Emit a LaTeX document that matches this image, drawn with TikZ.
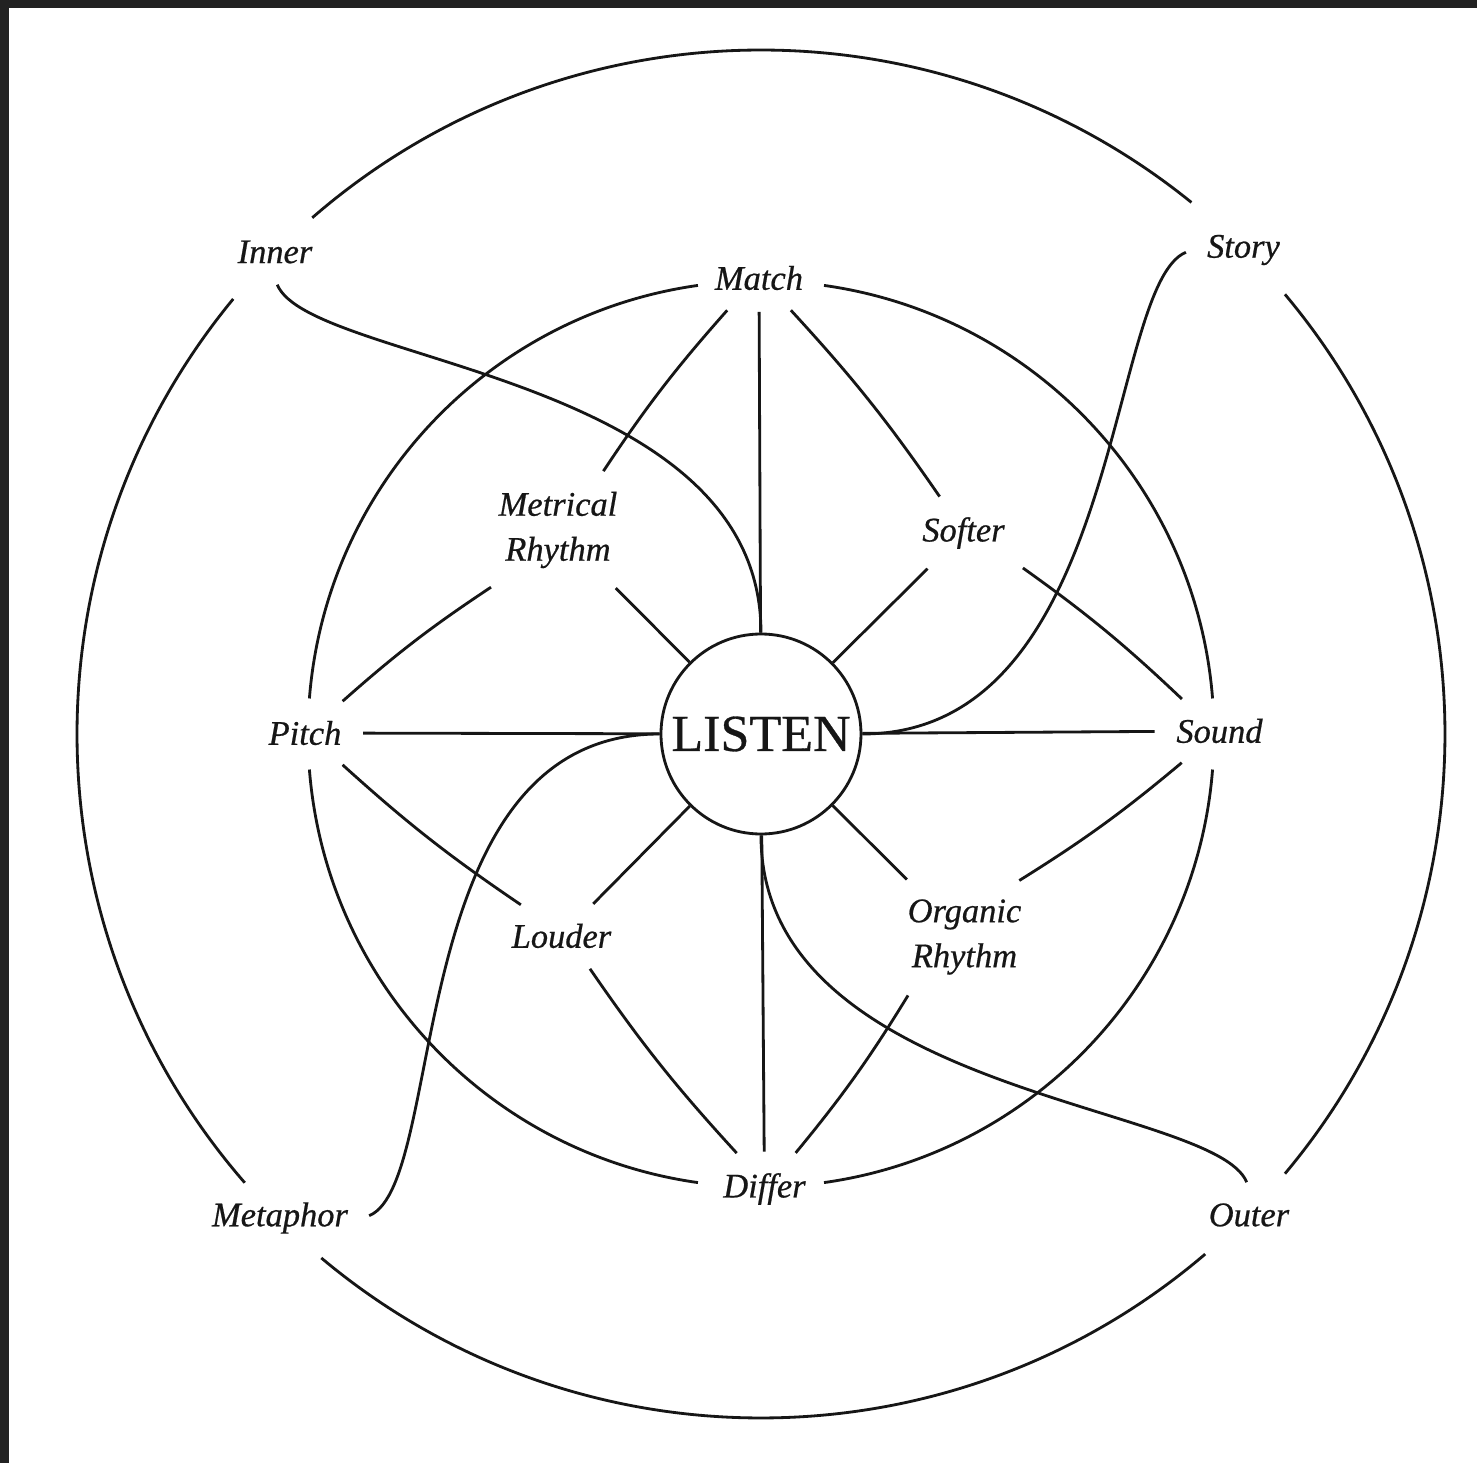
\documentclass[tikz,border=0pt]{standalone}
\usepackage{fontspec}
\setmainfont{Liberation Serif}
\newfontfamily\lblfont{Liberation Serif}[FakeBold=0.6]
\usepackage{tikz}
\usetikzlibrary{positioning}
\definecolor{frame}{RGB}{34,34,34}
\definecolor{ink}{RGB}{22,22,22}

\begin{document}
\begin{tikzpicture}[
  L/.style = {font=\lblfont\itshape\fontsize{9.8}{12.8}\selectfont,
              inner sep=0.15cm, align=center, text=ink},
  C/.style = {circle, draw=ink, line width=0.8pt, minimum size=2cm,
              inner sep=0pt, font=\lblfont\fontsize{14.8}{16}\selectfont, text=ink},
  ln/.style = {line width=0.8pt, draw=ink,
               shorten >=0.06cm, shorten <=0.06cm}
]
\useasboundingbox (-7.61,-7.29) rectangle (7.16,7.34);
\fill[white] (-7.61,-7.29) rectangle (7.16,7.34);
\fill[frame] (-7.61,7.26) rectangle (7.16,7.34);
\fill[frame] (-7.61,-7.29) rectangle (-7.52,7.34);

% Centre
\node[C] (listen) at (0,0) {LISTEN};

% Middle ring: four axis labels
\node[L] (match)  at (-0.02, 4.56) {Match};
\node[L] (pitch)  at (-4.56, 0.01) {Pitch};
\node[L] (sound)  at ( 4.585,0.03) {Sound};
\node[L] (differ) at ( 0.035,-4.55) {Differ};

% Inner diagonal labels
\node[L] (metrical) at (-2.03, 2.04) {Metrical\\Rhythm};
\node[L] (softer)   at ( 2.025,2.01) {Softer};
\node[L] (louder)   at (-1.995,-2.02) {Louder};
\node[L] (organic)  at ( 2.035,-2.03) {Organic\\Rhythm};

% Outer diagonal labels
\node[L] (inner)    at (-4.86, 4.82) {Inner};
\node[L] (story)    at ( 4.825,4.84) {Story};
\node[L] (metaphor) at (-4.81,-4.84) {Metaphor};
\node[L] (outer)    at ( 4.88,-4.81) {Outer};

% Broken circles
\foreach \a/\b in {51/131, 140.5/221, 230/310.5, 320/400}
  \draw[line width=0.8pt, ink] (\a:6.84) arc[start angle=\a, end angle=\b, radius=6.84];
\foreach \a/\b in {4.5/82, 98/175.5, 184.5/262, 278/355.5}
  \draw[line width=0.8pt, ink] (\a:4.53) arc[start angle=\a, end angle=\b, radius=4.53];

% Spokes into the centre
\foreach \n in {match,pitch,sound,differ,metrical,softer,louder,organic}
  \draw[ln, shorten >=0pt] (\n) -- (listen);

% Links between the two rings
\draw[ln] (match.225)    to[bend right=4] (metrical.52);
\draw[ln] (match.315)    to[bend left=4]  (softer.123);
\draw[ln] (metrical.221) to[bend right=4] (pitch.40);
\draw[ln] (pitch.320)    to[bend right=4] (louder.142);
\draw[ln] (softer.330)   to[bend left=4]  (sound.140);
\draw[ln] (sound.220)    to[bend left=4]  (organic.47);
\draw[ln] (louder.312)   to[bend right=4] (differ.127);
\draw[ln] (organic.225)  to[bend left=4]  (differ.49);

% S-curves from the outer labels
\draw[ln, shorten >=0pt] (inner.south)   .. controls +(0.35,-0.85) and +(0,2.6)  .. (listen.north);
\draw[ln, shorten >=0pt] (story.west)    .. controls +(-0.85,-0.35) and +(2.6,0) .. (listen.east);
\draw[ln, shorten >=0pt] (outer.north)   .. controls +(-0.35,0.85) and +(0,-2.6) .. (listen.south);
\draw[ln, shorten >=0pt] (metaphor.east) .. controls +(0.85,0.35) and +(-2.6,0) .. (listen.west);

\end{tikzpicture}
\end{document}
